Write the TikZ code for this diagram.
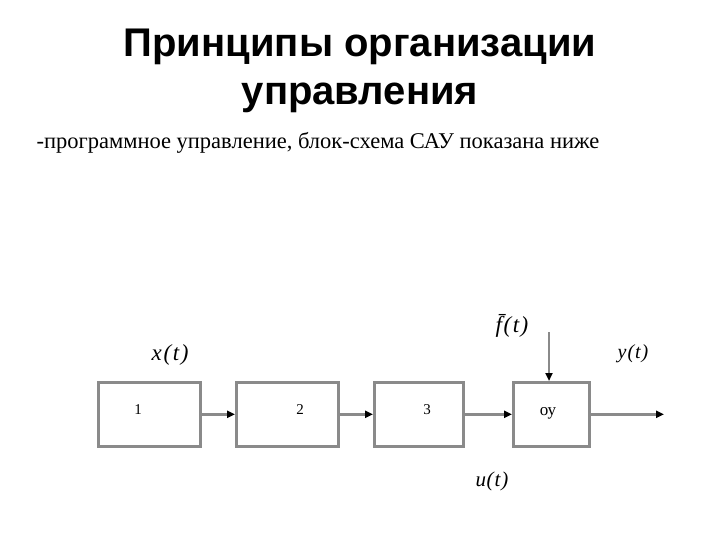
\documentclass[tikz,border=0pt]{standalone}
\usepackage{fontspec}
\setmainfont{Liberation Serif}
\newfontfamily\titlefont{Liberation Sans}
\usetikzlibrary{arrows.meta}
\definecolor{linegray}{HTML}{8A8A8A}
\begin{document}
\begin{tikzpicture}[x=1pt,y=-1pt,
  blk/.style={draw=linegray, line width=2.6pt, minimum width=#1, minimum height=64pt, inner sep=0pt, anchor=north west},
  conn/.style={draw=linegray, line width=2.6pt, -{Triangle[length=8pt,width=7pt,fill=black,color=black]}},
  lbl/.style={font=\fontsize{15}{17}\selectfont},
  sig/.style={font=\fontsize{23}{25}\selectfont\itshape}]
\useasboundingbox (0,0) rectangle (720,540);
\node[font=\titlefont\bfseries\fontsize{40}{48}\selectfont, align=center] (title) at (360,71) {Принципы организации\\управления};
\node[font=\fontsize{22.5}{24}\selectfont, anchor=west] (sub) at (33,143) {-программное управление, блок-схема САУ показана ниже};
\node[blk=102pt] (b1) at (97,381) {};
\node[blk=102pt] (b2) at (235,381) {};
\node[blk=89pt] (b3) at (373,381) {};
\node[blk=76pt] (b4) at (512,381) {};
\node[lbl] (l1) at (138,410) {1};
\node[lbl] (l2) at (300,410) {2};
\node[lbl] (l3) at (427,410) {3};
\node[font=\fontsize{17}{19}\selectfont] (l4) at (548,413) {оу};
\coordinate (fin) at (549,332);
\coordinate (yout) at (664,413);
\draw[conn] (b1.east) -- (b2.west);
\draw[conn] (b2.east) -- (b3.west);
\draw[conn] (b3.east) -- (b4.west);
\draw[conn] (b4.east) -- (b4.east -| yout);
\draw[conn] (fin) -- (b4.north -| fin);
\node[sig] (xt) at (170,355) {x\hspace{2pt}(\hspace{1.5pt}t\hspace{1.5pt})};
\node[sig] (ft) at (512,326) {f̄\hspace{1.5pt}(\hspace{1.5pt}t\hspace{1.5pt})};
\node[font=\fontsize{20}{22}\selectfont\itshape] (yt) at (633,354) {y\hspace{1pt}(\hspace{1pt}t\hspace{1pt})};
\node[font=\fontsize{21}{23}\selectfont\itshape] (ut) at (492,481) {u\hspace{0.5pt}(\hspace{1pt}t\hspace{1pt})};
\end{tikzpicture}
\end{document}
